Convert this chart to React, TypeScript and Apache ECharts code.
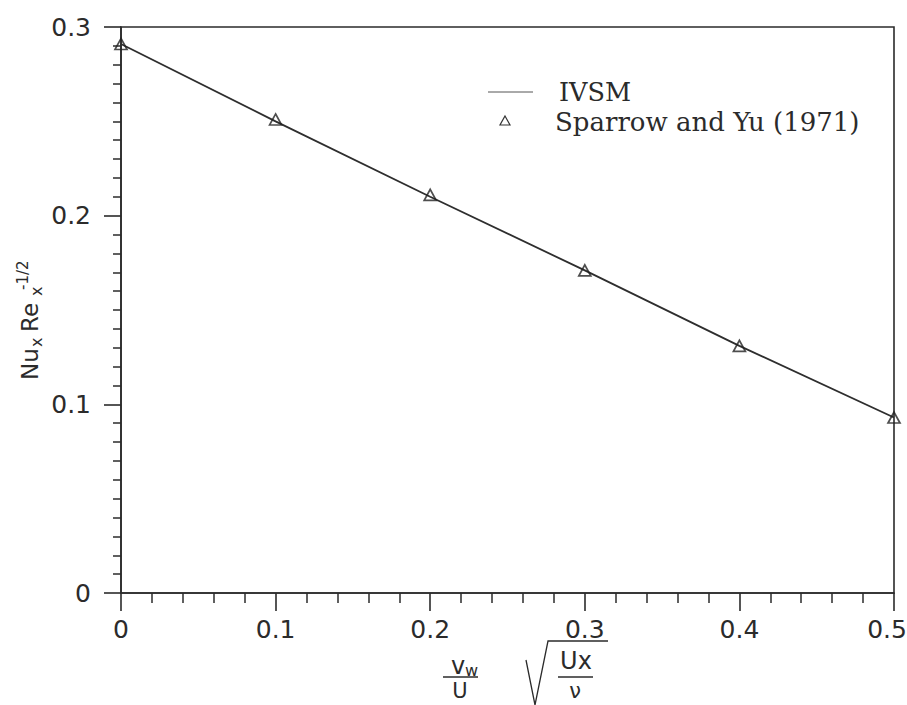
import React, { useEffect, useRef } from "react";
import * as echarts from "echarts";

const xValues = [0, 0.1, 0.2, 0.3, 0.4, 0.5];
const ivsmValues = [0.291, 0.250, 0.210, 0.171, 0.131, 0.093];
const sparrowValues = [0.291, 0.251, 0.211, 0.171, 0.131, 0.093];
const seriesNames = ["IVSM", "Sparrow and Yu (1971)"];

const INK = "#2b2b2b";
const SANS = "DejaVu Sans";
const SERIF = "DejaVu Serif";

export default function App() {
  const ref = useRef<HTMLDivElement>(null);
  useEffect(() => {
    if (!ref.current) return;
    const chart = echarts.init(ref.current, null, { renderer: "svg" });
    const lineData = xValues.map((x, i) => [x, ivsmValues[i]]);
    const scatData = xValues.map((x, i) => [x, sparrowValues[i]]);
    const option: any = {
      animation: false,
      backgroundColor: "#ffffff",
      grid: {
        left: 121,
        right: 13,
        top: 27,
        bottom: 112,
        show: true,
        borderColor: INK,
        borderWidth: 1.6,
        containLabel: false,
        outerBoundsMode: "none",
      },
      xAxis: {
        type: "value",
        min: 0,
        max: 0.5,
        interval: 0.1,
        axisLine: { show: true, lineStyle: { color: INK, width: 1.6 } },
        axisTick: { show: true, length: 18, lineStyle: { color: INK, width: 1.6 } },
        minorTick: { show: true, splitNumber: 5, length: 10, lineStyle: { color: INK, width: 1.5 } },
        splitLine: { show: false },
        minorSplitLine: { show: false },
        axisLabel: {
          color: INK,
          fontFamily: SANS,
          fontSize: 25,
          margin: 24,
          formatter: (v: number) => (v >= 0.5 - 1e-9 ? `{r|${v}}` : `${v}`),
          rich: { r: { fontFamily: SANS, fontSize: 25, color: INK, padding: [0, 14, 0, 0] } },
        },
      },
      yAxis: {
        type: "value",
        min: 0,
        max: 0.3,
        interval: 0.1,
        axisLine: { show: true, lineStyle: { color: INK, width: 1.6 } },
        axisTick: { show: true, length: 17, lineStyle: { color: INK, width: 1.6 } },
        minorTick: { show: true, splitNumber: 10, length: 8, lineStyle: { color: INK, width: 1.5 } },
        splitLine: { show: false },
        minorSplitLine: { show: false },
        axisLabel: { color: INK, fontFamily: SANS, fontSize: 25, margin: 30 },
      },
      series: [
        {
          name: seriesNames[0],
          type: "line",
          data: lineData,
          showSymbol: false,
          symbol: "none",
          lineStyle: { color: "#2e2e2e", width: 1.8 },
          clip: false,
        },
        {
          name: seriesNames[1],
          type: "scatter",
          data: scatData,
          symbol: "triangle",
          symbolSize: [12, 11],
          itemStyle: { color: "rgba(255,255,255,0)", borderColor: "#222", borderWidth: 1.7 },
          clip: false,
          z: 3,
        },
      ],
      graphic: [
        // legend
        { type: "line", shape: { x1: 488, y1: 92, x2: 533, y2: 92 }, style: { stroke: "#555", lineWidth: 1 } },
        {
          type: "polygon",
          shape: { points: [[505, 116], [510, 125], [500, 125]] },
          style: { fill: "none", stroke: "#333", lineWidth: 1.2 },
        },
        {
          type: "text", x: 559, y: 92,
          style: { text: seriesNames[0], font: `25.5px '${SERIF}'`, fill: INK, verticalAlign: "middle", align: "left" },
        },
        {
          type: "text", x: 555, y: 122,
          style: { text: seriesNames[1], font: `26px '${SERIF}'`, fill: INK, verticalAlign: "middle", align: "left" },
        },
        // y axis name (rotated)
        {
          type: "group",
          x: 38,
          y: 380,
          rotation: Math.PI / 2,
          children: [
            { type: "text", x: 0, y: -8, style: { text: "Nu", font: `23px '${SANS}'`, fill: INK, verticalAlign: "middle" } },
            { type: "text", x: 33, y: -2, style: { text: "x", font: `16px '${SANS}'`, fill: INK, verticalAlign: "middle" } },
            { type: "text", x: 48, y: -8, style: { text: "Re", font: `23px '${SANS}'`, fill: INK, verticalAlign: "middle" } },
            { type: "text", x: 84, y: -2, style: { text: "x", font: `16px '${SANS}'`, fill: INK, verticalAlign: "middle" } },
            { type: "text", x: 90, y: -15, style: { text: "-1/2", font: `15px '${SANS}'`, fill: INK, verticalAlign: "middle" } },
          ],
        },
        // x axis name: (v_w / U) sqrt(Ux / nu)
        { type: "text", x: 451, y: 666, style: { text: "v", font: `24px '${SANS}'`, fill: INK, verticalAlign: "middle" } },
        { type: "text", x: 465, y: 670, style: { text: "w", font: `16px '${SANS}'`, fill: INK, verticalAlign: "middle" } },
        { type: "line", shape: { x1: 443, y1: 677, x2: 478, y2: 677 }, style: { stroke: INK, lineWidth: 1.5 } },
        { type: "text", x: 460, y: 680, style: { text: "U", font: `21px '${SANS}'`, lineHeight: 21, fill: INK, verticalAlign: "top", align: "center" } },
        {
          type: "polyline",
          shape: { points: [[526, 660], [535, 705], [548, 641], [608, 641]] },
          style: { stroke: INK, lineWidth: 1.3, fill: "none" },
        },
        { type: "text", x: 576, y: 661, style: { text: "Ux", font: `24px '${SANS}'`, fill: INK, verticalAlign: "middle", align: "center" } },
        { type: "line", shape: { x1: 558, y1: 677, x2: 593, y2: 677 }, style: { stroke: INK, lineWidth: 1.5 } },
        { type: "text", x: 575, y: 680, style: { text: "ν", font: `21px '${SANS}'`, lineHeight: 21, fill: INK, verticalAlign: "top", align: "center" } },
      ],
    };
    chart.setOption(option);
    return () => chart.dispose();
  }, []);
  return (
    <div
      ref={ref}
      style={{ position: "fixed", left: 0, top: 0, width: 907, height: 705, background: "#fff" }}
    />
  );
}
